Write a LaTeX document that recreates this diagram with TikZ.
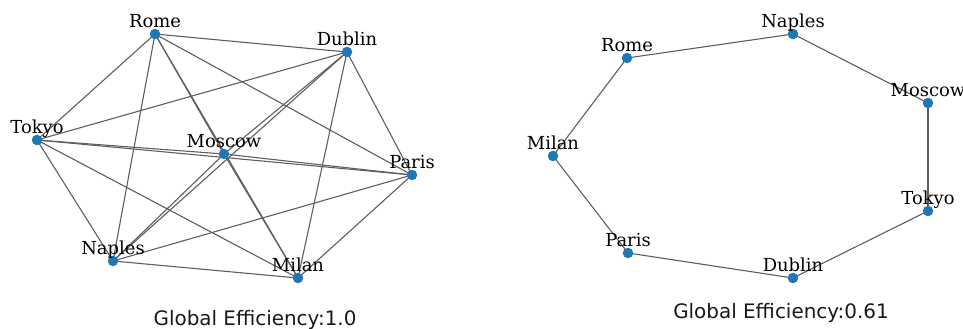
\documentclass[tikz,border=0pt]{standalone}
\usepackage{fontspec}
\newfontfamily\labfont{DejaVu Serif}
\newfontfamily\titlefont{DejaVu Sans}
\definecolor{nodeblue}{HTML}{1F77B4}
\definecolor{edgegray}{HTML}{5E5E5E}
\begin{document}
\begin{tikzpicture}[x=1bp,y=-1bp,
  dot/.style={circle,fill=nodeblue,draw=none,minimum size=10.5bp,inner sep=0pt},
  lab/.style={anchor=base,inner sep=0pt,font=\labfont\fontsize{18}{20}\selectfont},
  edge/.style={draw=edgegray,line width=1.1bp},
  caption/.style={anchor=base,inner sep=0pt,font=\titlefont\fontsize{20}{24}\selectfont,text=black!90}]
\useasboundingbox (0,0) rectangle (963,328);

% complete graph on seven cities
\foreach \n/\x/\y in {Rome/155/34, Dublin/347/52, Tokyo/37/140, Moscow/224/154,
                      Paris/412/175, Naples/113/261, Milan/298/278}
  \coordinate (l\n) at (\x,\y);
\foreach \a/\b in {Rome/Dublin, Rome/Tokyo, Rome/Moscow, Rome/Paris, Rome/Naples, Rome/Milan,
                   Dublin/Tokyo, Dublin/Moscow, Dublin/Paris, Dublin/Naples, Dublin/Milan,
                   Tokyo/Moscow, Tokyo/Paris, Tokyo/Naples, Tokyo/Milan,
                   Moscow/Paris, Moscow/Naples, Moscow/Milan,
                   Paris/Naples, Paris/Milan, Naples/Milan}
  \draw[edge] (l\a) -- (l\b);
\foreach \n in {Rome,Dublin,Tokyo,Moscow,Paris,Naples,Milan} {
  \node[dot] (ldot\n) at (l\n) {};
  \node[lab] (llab\n) at ([yshift=7bp]l\n) {\n};
}
\node[caption] (ltitle) at (255,325) {Global Efficiency:1.0};

% ring of the same seven cities
\foreach \n/\x/\y in {Rome/627/58, Naples/793/34, Moscow/928/103, Tokyo/928/211,
                      Dublin/793/278, Paris/628/253, Milan/553/156}
  \coordinate (r\n) at (\x,\y);
\foreach \a/\b in {Rome/Naples, Naples/Moscow, Moscow/Tokyo, Tokyo/Dublin,
                   Dublin/Paris, Paris/Milan, Milan/Rome}
  \draw[edge] (r\a) -- (r\b);
\foreach \n in {Rome,Naples,Moscow,Tokyo,Dublin,Paris,Milan} {
  \node[dot] (rdot\n) at (r\n) {};
  \node[lab] (rlab\n) at ([yshift=7bp]r\n) {\n};
}
\node[caption] (rtitle) at (781,318) {Global Efficiency:0.61};
\end{tikzpicture}
\end{document}
